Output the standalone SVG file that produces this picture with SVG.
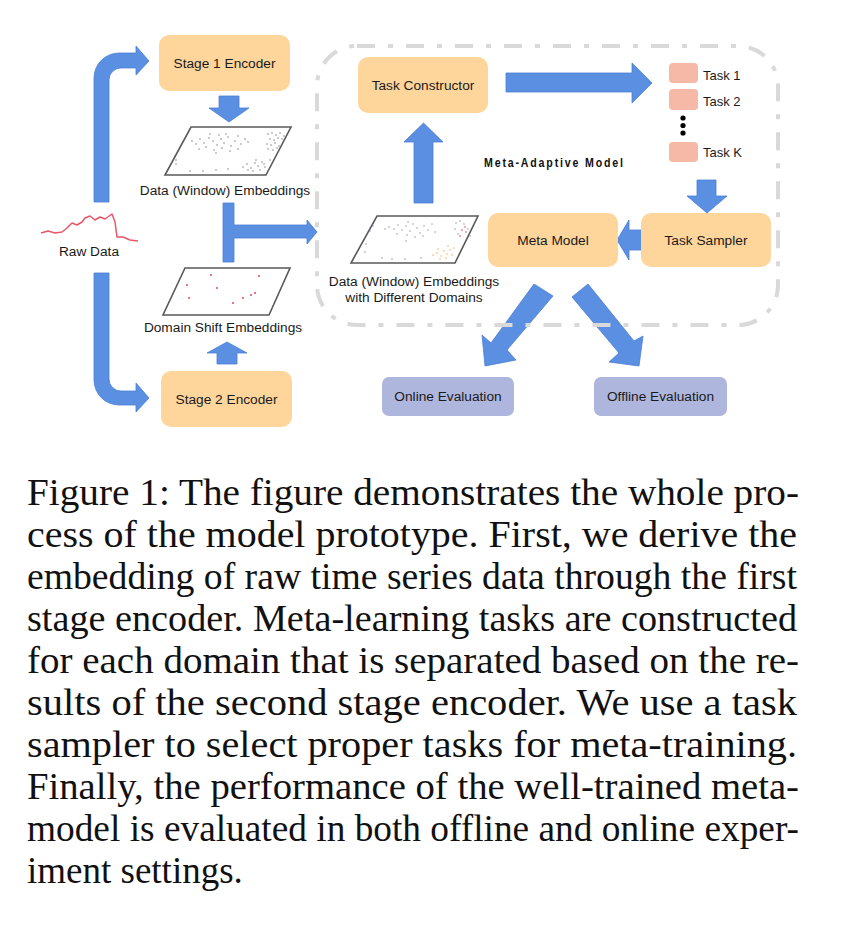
<svg xmlns="http://www.w3.org/2000/svg" width="858" height="933" viewBox="0 0 858 933">
<style>
.box{fill:#fed59b;}
.eval{fill:#aeb6dd;}
.task{fill:#f6b8a7;}
.lbl{font-family:"Liberation Sans",Arial,sans-serif;font-size:13.7px;fill:#1a1a1a;text-anchor:middle;}
.tl{font-family:"Liberation Sans",Arial,sans-serif;font-size:13px;fill:#1a1a1a;}
.arr{fill:#5b8fe2;stroke:#4b7fd6;stroke-width:0.8;stroke-linejoin:miter;}
.plane{fill:#ffffff;stroke:#595959;stroke-width:1.6;}
.cap{font-family:"Liberation Serif","Times New Roman",serif;font-size:37px;fill:#111;}
.g{fill:#8a8a8a;}
.r{fill:#e0485a;}
.o{fill:#f5b060;}
.b{fill:#8f93d8;}
</style>
<rect width="858" height="933" fill="#ffffff"/>

<g id="connectors">
  <path class="arr" d="M94,202 L94,78 A25,25 0 0 1 119,53 L136,53 L136,46 L149,61 L136,75 L136,68 L121,68 A12,12 0 0 0 109,80 L109,202 Z"/>
  <path class="arr" d="M94,273 L109,273 L109,379 A12,12 0 0 0 121,391 L136,391 L136,383 L149,398 L136,412 L136,405 L119,405 A25,25 0 0 1 94,380 Z"/>
  <path class="arr" d="M219,96 L239,96 L239,108 L249,108 L229,122 L209,108 L219,108 Z"/>
  <path class="arr" d="M217,364 L217,353 L207,353 L227,342 L247,353 L237,353 L237,364 Z"/>
  <path class="arr" d="M223,203 L234,203 L234,225 L307,225 L307,220 L317,232 L307,244 L307,238 L234,238 L234,262 L223,262 Z"/>
  <path class="arr" d="M414,203 L414,142 L404,142 L423.5,123 L443,142 L433,142 L433,203 Z"/>
  <path class="arr" d="M506,73 L632,73 L632,63 L652,83 L632,103 L632,92 L506,92 Z"/>
  <path class="arr" d="M697,180 L716,180 L716,196 L727,196 L707,213 L687,196 L697,196 Z"/>
  <path class="arr" d="M642,230 L629,230 L629,220 L617,240 L629,260 L629,250 L642,250 Z"/>
  <path class="arr" d="M534,284 L553,296 L507,350 L516,360 L485,366 L482,335 L491,343 Z"/>
  <path class="arr" d="M572,297 L588,284 L634,341 L643,336 L639,366 L609,362 L619,353 Z"/>
</g>

<g id="meta-adaptive-model">
  <rect x="317" y="46" width="461" height="279" rx="40" ry="40" fill="none" stroke="#d9d9d9" stroke-width="4" stroke-dasharray="18 13 5 13"/>
  <text transform="scale(0.85,1)" x="569.4" y="167" font-family="'Liberation Sans',Arial,sans-serif" font-size="12.5" font-weight="bold" fill="#111" textLength="163.5" lengthAdjust="spacing">Meta-Adaptive Model</text>
</g>

<g id="raw-data">
  <polyline fill="none" stroke="#e8566a" stroke-width="1.5" stroke-linejoin="round" points="41,233 48,231 55,233 62,232 67,228 72,223 77,225 82,222 85,218 90,216 95,220 100,217 105,219 112,214 115,222 117,237 123,237 130,240 138,241"/>
  <text class="lbl" x="89" y="256">Raw Data</text>
</g>

<g id="stage1-encoder">
  <rect class="box" x="159" y="35" width="131" height="56" rx="10"/>
  <text class="lbl" x="224.5" y="68">Stage 1 Encoder</text>
</g>

<g id="stage2-encoder">
  <rect class="box" x="161" y="371" width="131" height="56" rx="10"/>
  <text class="lbl" x="226.5" y="404">Stage 2 Encoder</text>
</g>

<g id="data-embeddings">
  <polygon class="plane" points="191,127 291,127 266,175 165,175"/>
  <g class="g">
    <circle cx="192" cy="141" r="0.8"/><circle cx="196" cy="144" r="0.8"/><circle cx="200" cy="139" r="0.8"/><circle cx="204" cy="143" r="0.8"/>
    <circle cx="209" cy="138" r="0.8"/><circle cx="213" cy="141" r="0.8"/><circle cx="217" cy="145" r="0.8"/><circle cx="221" cy="139" r="0.8"/>
    <circle cx="224" cy="143" r="0.8"/><circle cx="228" cy="137" r="0.8"/><circle cx="231" cy="146" r="0.8"/><circle cx="235" cy="141" r="0.8"/>
    <circle cx="238" cy="136" r="0.8"/><circle cx="241" cy="144" r="0.8"/><circle cx="245" cy="139" r="0.8"/><circle cx="248" cy="142" r="0.8"/>
    <circle cx="206" cy="147" r="0.8"/><circle cx="214" cy="150" r="0.8"/><circle cx="222" cy="148" r="0.8"/><circle cx="230" cy="151" r="0.8"/>
    <circle cx="238" cy="149" r="0.8"/><circle cx="219" cy="135" r="0.8"/><circle cx="226" cy="134" r="0.8"/><circle cx="210" cy="134" r="0.8"/>
    <circle cx="199" cy="149" r="0.8"/><circle cx="216" cy="153" r="0.8"/>
    <circle cx="268" cy="134" r="0.8"/><circle cx="272" cy="133" r="0.8"/><circle cx="276" cy="135" r="0.8"/><circle cx="280" cy="133" r="0.8"/>
    <circle cx="270" cy="139" r="0.8"/><circle cx="274" cy="140" r="0.8"/><circle cx="278" cy="138" r="0.8"/><circle cx="282" cy="139" r="0.8"/>
    <circle cx="267" cy="144" r="0.8"/><circle cx="271" cy="145" r="0.8"/><circle cx="275" cy="143" r="0.8"/><circle cx="279" cy="146" r="0.8"/>
    <circle cx="268" cy="149" r="0.8"/><circle cx="273" cy="150" r="0.8"/><circle cx="277" cy="148" r="0.8"/><circle cx="284" cy="136" r="0.8"/>
    <circle cx="243" cy="167" r="0.8"/><circle cx="247" cy="164" r="0.8"/><circle cx="251" cy="168" r="0.8"/><circle cx="255" cy="163" r="0.8"/>
    <circle cx="258" cy="166" r="0.8"/><circle cx="262" cy="162" r="0.8"/><circle cx="265" cy="167" r="0.8"/><circle cx="268" cy="171" r="0.8"/>
    <circle cx="260" cy="170" r="0.8"/><circle cx="253" cy="171" r="0.8"/><circle cx="248" cy="170" r="0.8"/><circle cx="264" cy="164" r="0.8"/>
    <circle cx="270" cy="160" r="0.8"/><circle cx="256" cy="160" r="0.8"/>
    <circle cx="176" cy="160" r="0.8"/><circle cx="176" cy="164" r="0.8"/><circle cx="190" cy="171" r="0.8"/><circle cx="203" cy="171" r="0.8"/>
    <circle cx="216" cy="170" r="0.8"/><circle cx="228" cy="169" r="0.8"/>
  </g>
  <text class="lbl" x="225" y="195">Data (Window) Embeddings</text>
</g>

<g id="domain-shift-embeddings">
  <polygon class="plane" points="185,268 290,268 269,315 163,315"/>
  <g class="r">
    <circle cx="187" cy="285" r="1"/><circle cx="211" cy="275" r="1"/><circle cx="217" cy="288" r="1"/><circle cx="189" cy="298" r="1"/>
    <circle cx="233" cy="303" r="1"/><circle cx="243" cy="298" r="1"/><circle cx="251" cy="295" r="1"/><circle cx="255" cy="293" r="1"/>
    <circle cx="259" cy="276" r="1"/>
  </g>
  <text class="lbl" x="223" y="332">Domain Shift Embeddings</text>
</g>

<g id="domain-embeddings">
  <polygon class="plane" points="377,216 478,216 455,263 351,263"/>
  <g class="g">
    <circle cx="385" cy="229" r="0.7"/><circle cx="389" cy="227" r="0.7"/><circle cx="394" cy="229" r="0.7"/><circle cx="398" cy="225" r="0.7"/>
    <circle cx="402" cy="230" r="0.7"/><circle cx="406" cy="226" r="0.7"/><circle cx="410" cy="231" r="0.7"/><circle cx="413" cy="224" r="0.7"/>
    <circle cx="417" cy="228" r="0.7"/><circle cx="420" cy="233" r="0.7"/><circle cx="424" cy="226" r="0.7"/><circle cx="428" cy="230" r="0.7"/>
    <circle cx="432" cy="224" r="0.7"/><circle cx="435" cy="232" r="0.7"/><circle cx="407" cy="235" r="0.7"/><circle cx="415" cy="237" r="0.7"/>
    <circle cx="423" cy="236" r="0.7"/><circle cx="408" cy="222" r="0.7"/><circle cx="397" cy="234" r="0.7"/><circle cx="406" cy="241" r="0.7"/>
    <circle cx="456" cy="223" r="0.7"/><circle cx="460" cy="221" r="0.7"/><circle cx="464" cy="224" r="0.7"/><circle cx="455" cy="229" r="0.7"/>
    <circle cx="468" cy="229" r="0.7"/><circle cx="458" cy="234" r="0.7"/><circle cx="470" cy="236" r="0.7"/>
    <circle cx="382" cy="258" r="0.7"/><circle cx="392" cy="259" r="0.7"/><circle cx="405" cy="259" r="0.7"/><circle cx="421" cy="258" r="0.7"/>
  </g>
  <g class="r">
    <circle cx="462" cy="230" r="0.8"/><circle cx="466" cy="232" r="0.8"/><circle cx="460" cy="236" r="0.8"/><circle cx="465" cy="227" r="0.8"/>
  </g>
  <g class="o">
    <circle cx="433" cy="255" r="0.8"/><circle cx="437" cy="253" r="0.8"/><circle cx="441" cy="256" r="0.8"/><circle cx="444" cy="251" r="0.8"/>
    <circle cx="447" cy="254" r="0.8"/><circle cx="450" cy="250" r="0.8"/><circle cx="452" cy="255" r="0.8"/><circle cx="446" cy="258" r="0.8"/>
    <circle cx="440" cy="259" r="0.8"/><circle cx="454" cy="248" r="0.8"/><circle cx="448" cy="246" r="0.8"/><circle cx="438" cy="249" r="0.8"/>
  </g>
  <g class="b">
    <circle cx="373" cy="226" r="0.8"/><circle cx="370" cy="231" r="0.8"/><circle cx="366" cy="244" r="0.8"/><circle cx="365" cy="252" r="0.8"/>
  </g>
  <text class="lbl" x="414" y="286">Data (Window) Embeddings</text>
  <text class="lbl" x="414" y="302">with Different Domains</text>
</g>

<g id="task-constructor">
  <rect class="box" x="358" y="57" width="130" height="56" rx="10"/>
  <text class="lbl" x="423" y="90">Task Constructor</text>
</g>

<g id="tasks">
  <rect class="task" x="669" y="63" width="29" height="20" rx="4"/>
  <text class="tl" x="703" y="80">Task 1</text>
  <rect class="task" x="669" y="89" width="29" height="21" rx="4"/>
  <text class="tl" x="703" y="106">Task 2</text>
  <circle cx="683" cy="118" r="2.6" fill="#000"/>
  <circle cx="683" cy="125.5" r="2.6" fill="#000"/>
  <circle cx="683" cy="133" r="2.6" fill="#000"/>
  <rect class="task" x="669" y="142" width="29" height="20" rx="4"/>
  <text class="tl" x="703" y="157">Task K</text>
</g>

<g id="task-sampler">
  <rect class="box" x="641" y="213" width="130" height="54" rx="10"/>
  <text class="lbl" x="706" y="245">Task Sampler</text>
</g>

<g id="meta-model">
  <rect class="box" x="488" y="213" width="130" height="54" rx="10"/>
  <text class="lbl" x="553" y="245">Meta Model</text>
</g>

<g id="online-evaluation">
  <rect class="eval" x="382" y="377" width="132" height="39" rx="7"/>
  <text class="lbl" x="448" y="401">Online Evaluation</text>
</g>

<g id="offline-evaluation">
  <rect class="eval" x="594" y="377" width="133" height="39" rx="7"/>
  <text class="lbl" x="660.5" y="401">Offline Evaluation</text>
</g>

<g id="caption">
  <text class="cap" x="27" y="505" textLength="772" lengthAdjust="spacingAndGlyphs">Figure 1: The figure demonstrates the whole pro-</text>
  <text class="cap" x="27" y="547" textLength="770" lengthAdjust="spacingAndGlyphs">cess of the model prototype. First, we derive the</text>
  <text class="cap" x="27" y="589" textLength="770" lengthAdjust="spacingAndGlyphs">embedding of raw time series data through the first</text>
  <text class="cap" x="27" y="631" textLength="770" lengthAdjust="spacingAndGlyphs">stage encoder. Meta-learning tasks are constructed</text>
  <text class="cap" x="27" y="673" textLength="772" lengthAdjust="spacingAndGlyphs">for each domain that is separated based on the re-</text>
  <text class="cap" x="27" y="715" textLength="770" lengthAdjust="spacingAndGlyphs">sults of the second stage encoder. We use a task</text>
  <text class="cap" x="27" y="757" textLength="770" lengthAdjust="spacingAndGlyphs">sampler to select proper tasks for meta-training.</text>
  <text class="cap" x="27" y="799" textLength="772" lengthAdjust="spacingAndGlyphs">Finally, the performance of the well-trained meta-</text>
  <text class="cap" x="27" y="841" textLength="772" lengthAdjust="spacingAndGlyphs">model is evaluated in both offline and online exper-</text>
  <text class="cap" x="27" y="883">iment settings.</text>
</g>
</svg>
